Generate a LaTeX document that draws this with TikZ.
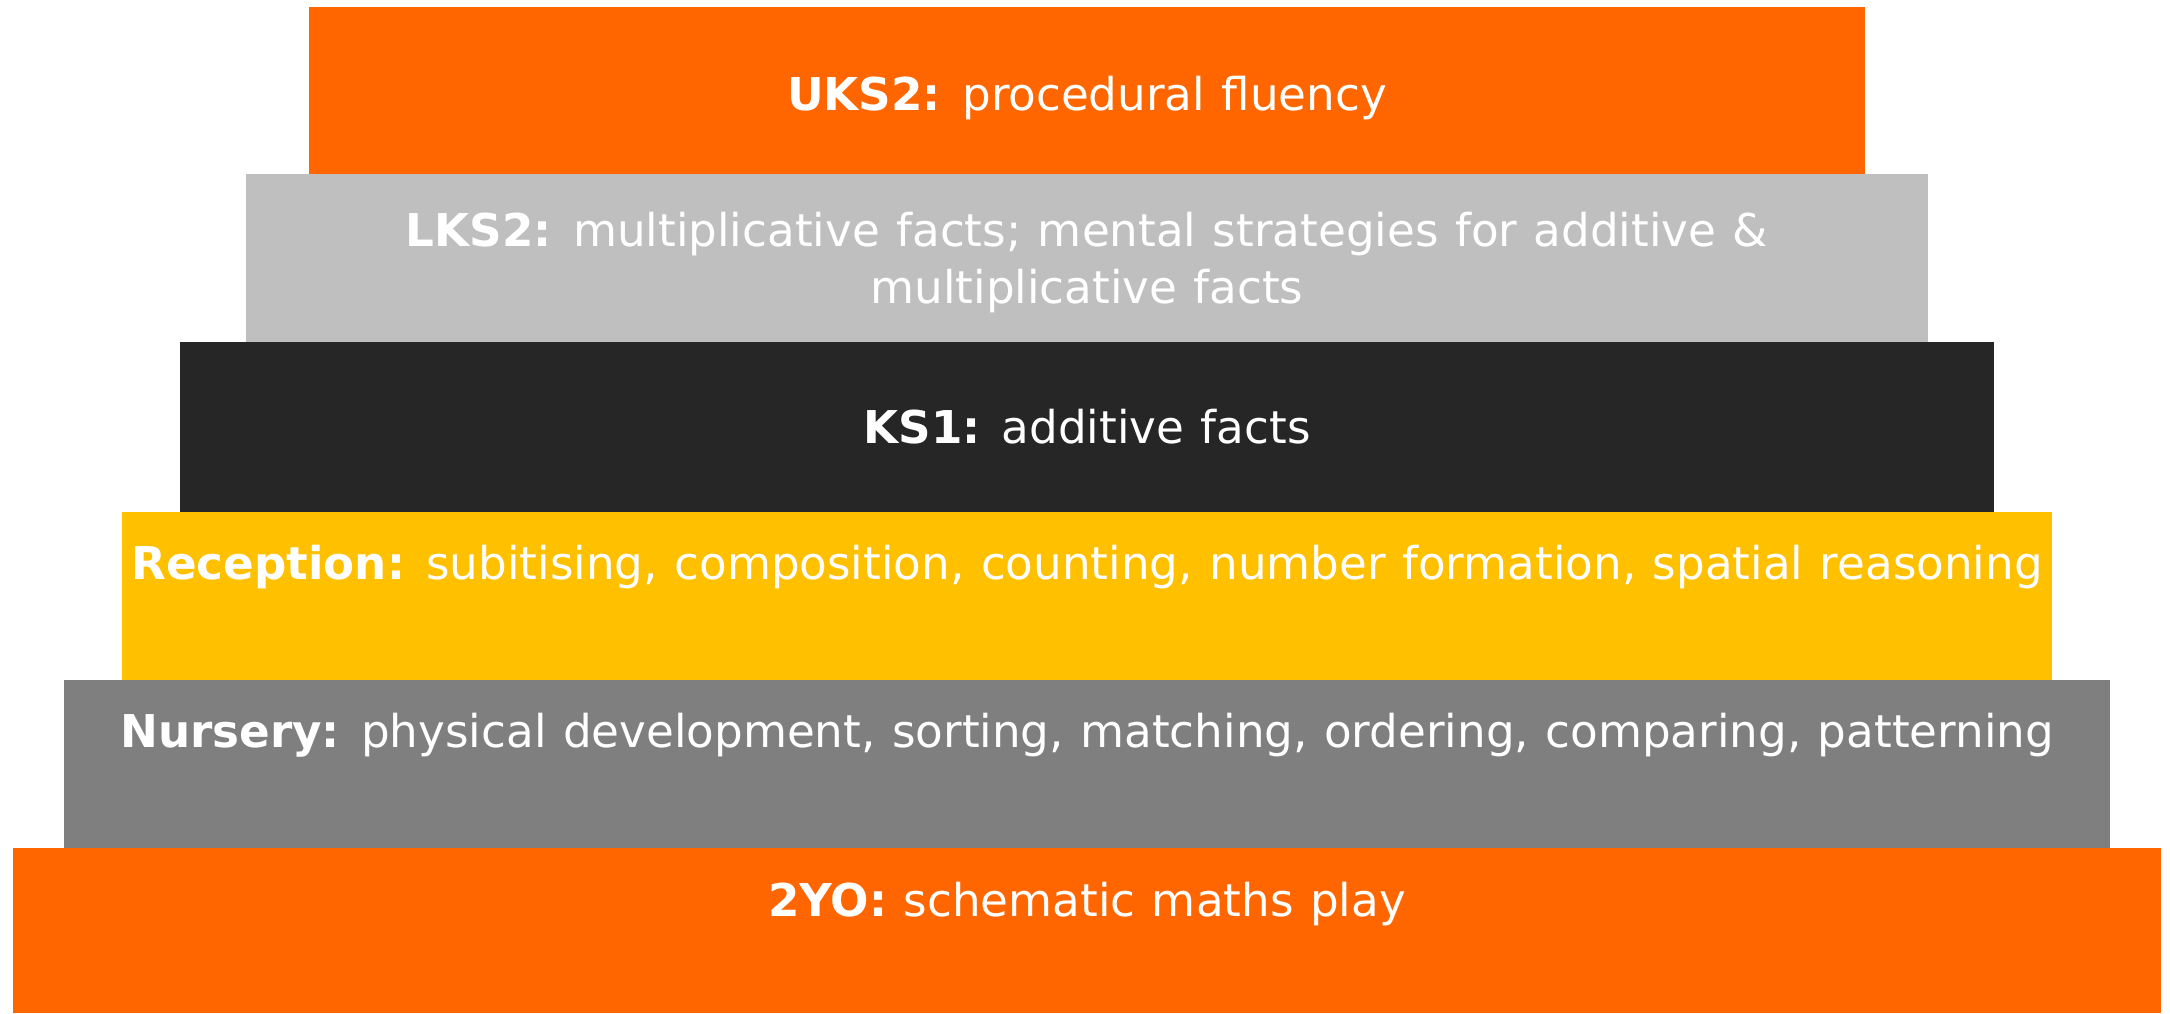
\documentclass[tikz,border=0pt]{standalone}
\usepackage{fontspec}
\setmainfont[WordSpace=1.15]{DejaVu Sans}
\definecolor{cOrange}{HTML}{FF6600}
\definecolor{cLight}{HTML}{BFBFBF}
\definecolor{cDark}{HTML}{262626}
\definecolor{cYellow}{HTML}{FFC000}
\definecolor{cGray}{HTML}{7F7F7F}
\begin{document}
\begin{tikzpicture}[x=0.5pt,y=-0.5pt,
  lbl/.style={text=white, anchor=base, inner sep=0pt, outer sep=0pt, font=\fontsize{22.6}{28.5}\selectfont}]
\useasboundingbox (0,0) rectangle (2170,1013);
\fill[white] (0,0) rectangle (2170,1013);
% boxes
\fill[cOrange] (309,7)   rectangle (1865,174);
\fill[cLight]  (246,174) rectangle (1928,342);
\fill[cDark]   (180,342) rectangle (1994,512);
\fill[cYellow] (122,512) rectangle (2052,680);
\fill[cGray]   (64,680)  rectangle (2110,848);
\fill[cOrange] (13,848)  rectangle (2161,1013);
% labels
\node[lbl] (uks2) at (1087,110) {\textbf{UKS2:} procedural fluency};
\node[lbl] (lks2a) at (1087,246) {\textbf{LKS2:} multiplicative facts; mental strategies for additive \&};
\node[lbl] (lks2b) at (1087,303) {multiplicative facts};
\node[lbl] (ks1) at (1087,443) {\textbf{KS1:} additive facts};
\node[lbl] (rec) at (1087,579) {\textbf{Reception:} subitising, composition, counting, number formation, spatial reasoning};
\node[lbl] (nur) at (1087,747) {\textbf{Nursery:} physical development, sorting, matching, ordering, comparing, patterning};
\node[lbl] (two) at (1087,916) {\textbf{2YO:} schematic maths play};
\end{tikzpicture}
\end{document}
